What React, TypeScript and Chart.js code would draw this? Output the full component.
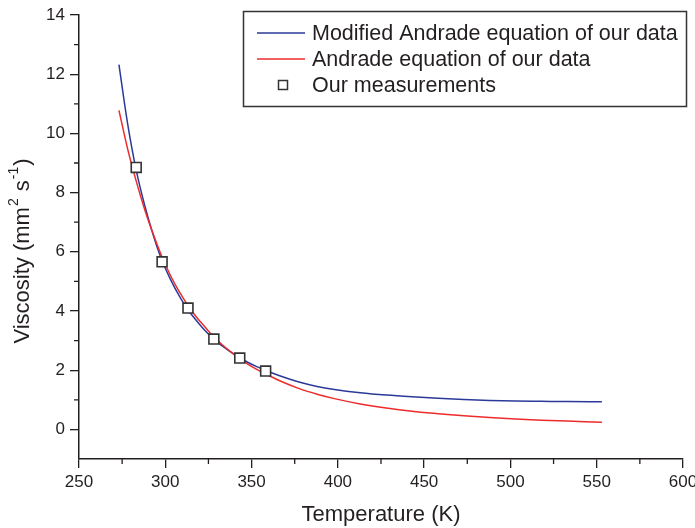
import React, { useEffect, useRef } from 'react';
import { Chart, registerables } from 'chart.js';

Chart.register(...registerables);

// Temperatures (K) at which the fitted curves were read
const curveTemps = [273.15, 278, 283, 288, 293, 298, 303, 308, 313, 318, 323, 328, 333, 338, 343, 348, 353, 358, 368, 378, 388, 398, 413, 428, 443, 458, 473, 488, 503, 518, 533, 553];
// Modified Andrade equation (blue)
const modifiedAndrade = [12.32, 10.39, 8.8, 7.58, 6.57, 5.72, 5.07, 4.52, 4.05, 3.68, 3.34, 3.05, 2.82, 2.61, 2.42, 2.26, 2.12, 2.0, 1.78, 1.59, 1.45, 1.35, 1.24, 1.16, 1.1, 1.05, 1.01, 0.98, 0.96, 0.95, 0.94, 0.93];
// Andrade equation (red)
const andrade = [10.78, 9.52, 8.42, 7.44, 6.6, 5.84, 5.2, 4.66, 4.2, 3.8, 3.46, 3.13, 2.86, 2.62, 2.4, 2.2, 2.03, 1.88, 1.6, 1.37, 1.19, 1.04, 0.86, 0.72, 0.61, 0.53, 0.46, 0.4, 0.35, 0.31, 0.28, 0.24];
// Measurements
const measTemps = [283.15, 298.15, 313.15, 328.15, 343.15, 358.15];
const measVisc = [8.85, 5.66, 4.1, 3.05, 2.41, 1.97];

const seriesLabels = ['Modified Andrade equation of our data', 'Andrade equation of our data', 'Our measurements'];
const xMinorTicks = [275, 325, 375, 425, 475, 525, 575];
const yMinorTicks = [1, 3, 5, 7, 9, 11, 13];

const FONT = '"Liberation Sans", Arial, Helvetica, sans-serif';
const INK = '#231f20';
const BLUE = '#2b3a98';
const RED = '#ee2b2b';

export default function App() {
  const ref = useRef<HTMLCanvasElement>(null);

  useEffect(() => {
    document.body.style.margin = '0';
    const canvas = ref.current;
    if (!canvas) return;

    const minorTicksPlugin = {
      id: 'minorTicks',
      afterDraw(chart: any) {
        const { ctx, scales } = chart;
        const x = scales.x;
        const y = scales.y;
        ctx.save();
        ctx.strokeStyle = INK;
        ctx.lineWidth = 1.3;
        ctx.beginPath();
        const bottom = chart.chartArea.bottom;
        const left = chart.chartArea.left;
        for (const v of xMinorTicks) {
          const px = x.getPixelForValue(v);
          ctx.moveTo(px, bottom);
          ctx.lineTo(px, bottom + 5);
        }
        for (const v of yMinorTicks) {
          const py = y.getPixelForValue(v);
          ctx.moveTo(left, py);
          ctx.lineTo(left - 5, py);
        }
        ctx.stroke();
        ctx.restore();
      },
    };

    const yTitlePlugin = {
      id: 'yTitle',
      afterDraw(chart: any) {
        const { ctx, chartArea } = chart;
        const segs = [
          { t: 'Viscosity (mm', sup: false },
          { t: '2', sup: true },
          { t: ' s', sup: false },
          { t: '-1', sup: true },
          { t: ')', sup: false },
        ];
        const mainFont = `22px ${FONT}`;
        const supFont = `14px ${FONT}`;
        ctx.save();
        let total = 0;
        const widths = segs.map((s) => {
          ctx.font = s.sup ? supFont : mainFont;
          const w = ctx.measureText(s.t).width + (s.sup ? 2 : 0);
          total += w;
          return w;
        });
        const cy = (chartArea.top + chartArea.bottom) / 2 + 14;
        ctx.translate(23, cy);
        ctx.rotate(-Math.PI / 2);
        ctx.fillStyle = INK;
        ctx.textBaseline = 'middle';
        ctx.textAlign = 'left';
        let pos = -total / 2;
        segs.forEach((s, i) => {
          ctx.font = s.sup ? supFont : mainFont;
          ctx.fillText(s.t, pos + (s.sup ? 1 : 0), s.sup ? -9 : 0);
          pos += widths[i];
        });
        ctx.restore();
      },
    };

    const legendPlugin = {
      id: 'boxLegend',
      afterDraw(chart: any) {
        const { ctx } = chart;
        const ds = chart.data.datasets;
        ctx.save();
        ctx.strokeStyle = '#333333';
        ctx.lineWidth = 1.5;
        ctx.fillStyle = '#ffffff';
        ctx.fillRect(243.5, 11.5, 443, 95);
        ctx.strokeRect(243.5, 11.5, 443, 95);
        const rows = [33, 59, 85];
        ctx.font = `21.5px ${FONT}`;
        ctx.textBaseline = 'middle';
        ctx.textAlign = 'left';
        ds.forEach((d: any, i: number) => {
          const yy = rows[i];
          if (d.showLine) {
            ctx.strokeStyle = d.borderColor;
            ctx.lineWidth = 1.5;
            ctx.beginPath();
            ctx.moveTo(257, yy);
            ctx.lineTo(305, yy);
            ctx.stroke();
          } else {
            ctx.fillStyle = '#ffffff';
            ctx.strokeStyle = d.borderColor;
            ctx.lineWidth = 1.5;
            ctx.fillRect(278.5, yy - 4.5, 9, 9);
            ctx.strokeRect(278.5, yy - 4.5, 9, 9);
          }
          ctx.fillStyle = INK;
          ctx.fillText(d.label, 312, yy + 1);
        });
        ctx.restore();
      },
    };

    const chart = new Chart(canvas, {
      type: 'scatter',
      data: {
        datasets: [
          {
            label: seriesLabels[0],
            data: curveTemps.map((t, i) => ({ x: t, y: modifiedAndrade[i] })),
            showLine: true,
            borderColor: BLUE,
            backgroundColor: BLUE,
            borderWidth: 1.5,
            pointRadius: 0,
            cubicInterpolationMode: 'monotone',
            order: 2,
          },
          {
            label: seriesLabels[1],
            data: curveTemps.map((t, i) => ({ x: t, y: andrade[i] })),
            showLine: true,
            borderColor: RED,
            backgroundColor: RED,
            borderWidth: 1.5,
            pointRadius: 0,
            cubicInterpolationMode: 'monotone',
            order: 1,
          },
          {
            label: seriesLabels[2],
            data: measTemps.map((t, i) => ({ x: t, y: measVisc[i] })),
            showLine: false,
            borderColor: '#333333',
            backgroundColor: '#ffffff',
            borderWidth: 1.6,
            pointStyle: 'rect',
            pointRadius: 7,
            order: 0,
          },
        ],
      },
      options: {
        responsive: false,
        animation: false,
        layout: { padding: { top: 15, right: 12, left: 0, bottom: 0 } },
        plugins: {
          legend: { display: false },
          tooltip: { enabled: false },
        },
        scales: {
          x: {
            type: 'linear',
            min: 250,
            max: 600,
            ticks: {
              stepSize: 50,
              color: INK,
              font: { family: FONT, size: 17 },
              padding: 4,
              maxRotation: 0,
            },
            grid: {
              drawOnChartArea: false,
              drawTicks: true,
              tickLength: 9,
              color: INK,
              lineWidth: 1.3,
            },
            border: { display: true, color: INK, width: 1.5 },
            title: {
              display: true,
              text: 'Temperature (K)',
              color: INK,
              font: { family: FONT, size: 22 },
              padding: { top: 0, bottom: 0 },
            },
            afterFit(scale: any) {
              scale.height = 69;
              scale.paddingRight = 0;
              scale.paddingLeft = 0;
            },
          },
          y: {
            type: 'linear',
            min: -1,
            max: 14,
            ticks: {
              stepSize: 2,
              includeBounds: false,
              color: INK,
              font: { family: FONT, size: 17 },
              padding: 5,
            },
            grid: {
              drawOnChartArea: false,
              drawTicks: true,
              tickLength: 9,
              color: INK,
              lineWidth: 1.3,
            },
            border: { display: true, color: INK, width: 1.5 },
            afterFit(scale: any) {
              scale.width = 79;
              scale.paddingTop = 0;
              scale.paddingBottom = 0;
            },
          },
        },
      },
      plugins: [minorTicksPlugin, yTitlePlugin, legendPlugin],
    } as any);

    return () => chart.destroy();
  }, []);

  return (
    <div style={{ width: 695, height: 528, position: 'relative', background: '#fff' }}>
      <canvas ref={ref} width={695} height={528} style={{ display: 'block' }} />
    </div>
  );
}
